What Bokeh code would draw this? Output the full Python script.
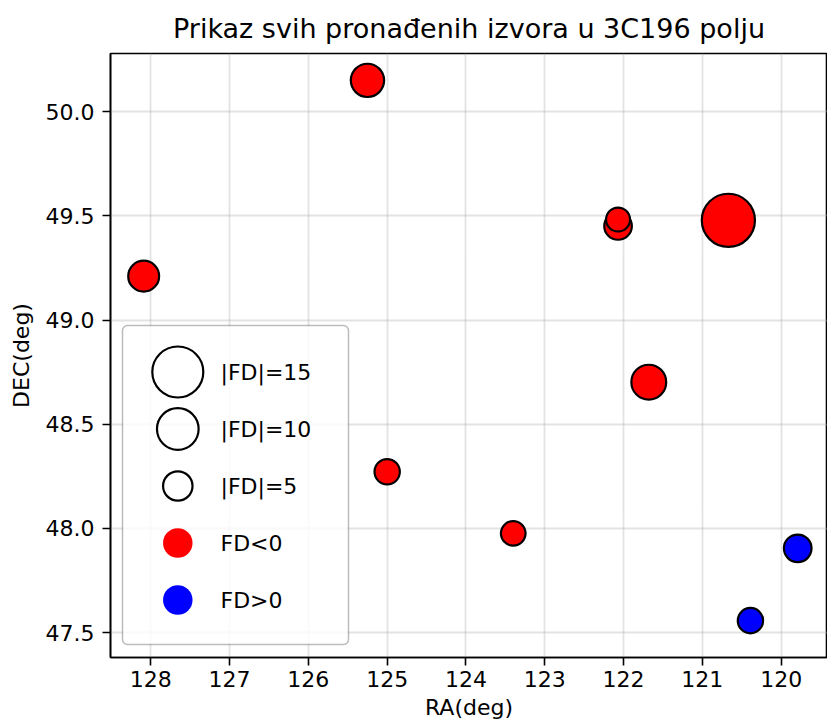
import numpy as np
from bokeh.plotting import figure
from bokeh.models import Range1d, FixedTicker, BoxAnnotation, PrintfTickFormatter
from bokeh.core.properties import value
from bokeh.embed import file_html
from bokeh.resources import INLINE

# ---- data ----
ra = [125.25, 128.09, 122.07, 122.07, 120.67, 121.68, 125.00, 123.40, 119.79, 120.39]
dec = [50.151, 49.211, 49.452, 49.483, 49.479, 48.702, 48.272, 47.976, 47.904, 47.557]
fd = [-6.4, -5.5, -4.4, -3.3, -16.3, -7.0, -3.7, -3.5, 4.4, 3.7]

x_ticks = [120, 121, 122, 123, 124, 125, 126, 127, 128]
y_ticks = [47.5, 48.0, 48.5, 49.0, 49.5, 50.0]

legend_fd = [15, 10, 5]
legend_labels = ["|FD|=15", "|FD|=10", "|FD|=5", "FD<0", "FD>0"]
legend_colors = ["red", "blue"]

title_text = "Prikaz svih pronađenih izvora u 3C196 polju"
x_label = "RA(deg)"
y_label = "DEC(deg)"

# ---- style ----
FONT = "DejaVu Sans"
TICK_PX = "22px"
TITLE_PX = "27px"
SIZE_K = 13.17          # marker diameter (px) per sqrt(|FD|)
EDGE = 2.2
W, H = 827, 726
BL, BR, BT, BB = 110, 0, 53, 69
FW, FH = W - BL - BR, H - BT - BB

p = figure(
    width=W, height=H,
    x_range=Range1d(128.511, 119.412),
    y_range=Range1d(47.380, 50.280),
    output_backend="svg", toolbar_location=None,
    min_border_left=BL, min_border_right=BR,
    min_border_top=BT, min_border_bottom=BB,
    background_fill_color="white", border_fill_color="white",
)
p.extra_x_ranges = {"px": Range1d(0, FW)}
p.extra_y_ranges = {"py": Range1d(0, FH)}

# title
p.title.text = title_text
p.title.align = "center"
p.title.text_font = FONT
p.title.text_font_size = TITLE_PX
p.title.text_font_style = "normal"
p.title.text_color = "black"
p.title.standoff = 19

# axes
for ax in (p.xaxis[0], p.yaxis[0]):
    ax.major_label_text_font = FONT
    ax.major_label_text_font_size = TICK_PX
    ax.major_label_text_color = "black"
    ax.axis_label_text_font = FONT
    ax.axis_label_text_font_size = TICK_PX
    ax.axis_label_text_font_style = "normal"
    ax.axis_label_text_color = "black"
    ax.axis_line_color = "black"
    ax.axis_line_width = 1.6
    ax.major_tick_line_color = "black"
    ax.major_tick_line_width = 1.6
    ax.major_tick_out = 8
    ax.major_tick_in = 0
    ax.minor_tick_out = 0
    ax.minor_tick_in = 0

p.xaxis.ticker = FixedTicker(ticks=x_ticks)
p.yaxis.ticker = FixedTicker(ticks=y_ticks)
p.yaxis.formatter = PrintfTickFormatter(format="%.1f")
p.xaxis.axis_label = x_label
p.yaxis.axis_label = y_label
p.xaxis.major_label_standoff = 5
p.yaxis.major_label_standoff = 8
p.xaxis.axis_label_standoff = 5
p.yaxis.axis_label_standoff = 9

p.outline_line_color = "black"
p.outline_line_width = 1.6
p.outline_line_alpha = 1.0

p.grid.grid_line_color = "#b0b0b0"
p.grid.grid_line_alpha = 0.35
p.grid.grid_line_width = 1.8

# ---- data markers ----
fd_arr = np.array(fd)
sizes = SIZE_K * np.sqrt(np.abs(fd_arr))
colors = ["red" if v < 0 else "blue" for v in fd]
p.scatter(x=ra, y=dec, size=sizes, fill_color=colors, line_color="black",
          line_width=EDGE, marker="circle")

# ---- custom legend (frame-pixel coordinates) ----
LEG_L, LEG_R, LEG_B, LEG_T = 12, 238, 13, 332
box = BoxAnnotation(left=LEG_L, right=LEG_R, bottom=LEG_B, top=LEG_T,
                    x_range_name="px", y_range_name="py",
                    fill_color="white", fill_alpha=0.8,
                    line_color="#222222", line_width=1.5, border_radius=5,
                    level="underlay")
p.add_layout(box)

row_top = 285.5
row_step = 57.0
marker_x = 67.3
text_x = 110
rows_y = [row_top - i * row_step for i in range(len(legend_labels))]

n_size = len(legend_fd)
p.scatter(x=[marker_x] * n_size, y=rows_y[:n_size],
          size=SIZE_K * np.sqrt(np.array(legend_fd, dtype=float)),
          fill_color=None, line_color="black", line_width=EDGE,
          x_range_name="px", y_range_name="py")
p.scatter(x=[marker_x] * len(legend_colors), y=rows_y[n_size:],
          size=29.5, fill_color=legend_colors, line_color=None,
          x_range_name="px", y_range_name="py")
p.text(x=[text_x] * len(legend_labels), y=rows_y, text=legend_labels,
       text_font=value(FONT), text_font_size=value(TICK_PX),
       text_baseline="middle", text_align="left", text_color="black",
       x_range_name="px", y_range_name="py")

open("out.html", "w").write(file_html(p, INLINE))
